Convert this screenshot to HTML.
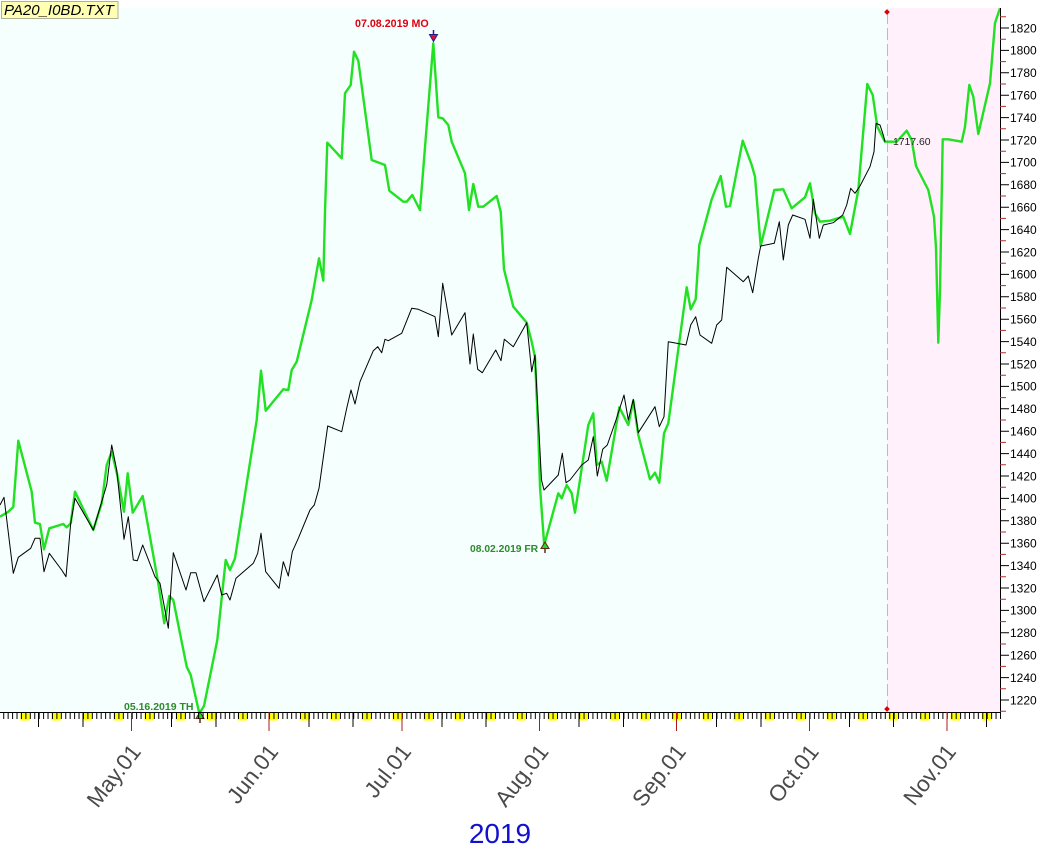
<!DOCTYPE html>
<html>
<head>
<meta charset="utf-8">
<style>
html,body{margin:0;padding:0;background:#fff;}
svg{display:block;}
text{font-family:"Liberation Sans",Arial,sans-serif;}
</style>
</head>
<body>
<svg width="1063" height="849" viewBox="0 0 1063 849" xmlns="http://www.w3.org/2000/svg">
<defs>
  <pattern id="dayticks" patternUnits="userSpaceOnUse" x="-1.2" y="712" width="4.43" height="8">
    <rect x="0" y="0" width="1" height="8" fill="#000"/>
  </pattern>
  <pattern id="weekend" patternUnits="userSpaceOnUse" x="-1.2" y="713" width="31.01" height="8">
    <rect x="21.6" y="0" width="9.4" height="7.5" fill="#ffff00"/>
  </pattern>
</defs>

<!-- plot backgrounds -->
<rect x="0" y="8" width="887" height="704" fill="#f5fffd"/>
<rect x="887" y="8" width="113" height="704" fill="#fff0fb"/>

<!-- dashed vertical line -->
<line x1="887.5" y1="12" x2="887.5" y2="709" stroke="#cbb3bd" stroke-width="1" stroke-dasharray="12 4"/>
<rect x="885" y="10" width="4" height="4" fill="#e00000" transform="rotate(45 887 12)"/>
<rect x="885" y="707" width="4" height="4" fill="#e00000" transform="rotate(45 887 709)"/>

<!-- green series -->
<polyline fill="none" stroke="#22e022" stroke-width="2.4" stroke-linejoin="round" points="0,516.7 8,512 13.3,507 18.3,440.7 31.7,491.7 35,522.7 40,524 44,549.3 49.3,528.3 63.3,524 66.7,527.3 70.7,523.3 75,491.7 93.3,530 101.7,503.3 106.7,465 111.7,451.7 117.3,475 124,511.7 127.7,473.3 132.7,512.7 142.7,496 158.3,583.3 164.3,623.3 169.3,596 173.3,600 186.7,666.7 190.7,675 199.3,713.3 204,706 217.3,640 225.7,560 230,570 235,558.3 248.3,473.3 256.7,420 261,370.7 265.7,410.7 283.3,389.3 288.3,390 291.7,370 296.7,361.7 311.7,300 314,286.7 319,258.3 323.3,280.7 325,211.7 327.3,142.7 341.7,158.3 345,93.3 350.7,85 354,51.7 358.3,60.7 371.7,160 385,165 389.3,190.7 403.3,201.7 406.7,201.7 412.3,195 420,210 433.3,43.3 438.3,117.3 442.7,118.3 448.3,125 451.7,141.7 465,173.3 469,210 473.3,184 478.3,206.7 483.3,206.7 496.7,196 500.7,211.7 504,269.3 513.3,306.7 526.7,322.7 531.7,341.7 535,357 538.3,433.3 540,486.7 544.2,545 558.3,493.3 561.7,498.3 566.7,485 571.7,493.3 575,512.7 588.3,425 593.3,413.3 596.7,465 601.7,461.7 606.7,480.7 619.3,407.3 628.3,425 633.3,400.7 638.3,435 650,479.3 655,472.7 659.3,482.7 664,433.3 668.3,423.3 686.7,287.3 690.7,309.3 695.7,299.3 699.3,245 711.7,199.3 720.7,176 726,206.7 730,206 742.7,140.7 751.7,165 755,176.7 760.7,246 774.3,190 783.3,189.3 791.7,208.3 805,197.3 810,183.3 815,213.3 820,221.7 830,220.7 843.3,216.7 850,234 858.3,190 867.3,84 872.7,95 877.3,126.7 885,141.7 896.7,141.7 906.7,130.7 911.7,140 916,166 928.3,190 934,216.7 936,248 938.3,342.7 940,290 942.7,139.3 948.3,139.3 961.7,141.7 965,126.7 969.3,85 973.3,96.7 978.3,134 990,83.3 995,23 1000,8.3"/>

<!-- black series -->
<polyline fill="none" stroke="#000" stroke-width="1" stroke-linejoin="round" points="0,505 4,497.3 13.3,573.3 18.3,557.3 30.7,548.3 35,538.3 40,538.3 44,571.7 49.3,553.3 61.7,570 66,576.7 70.7,523.3 75,498.3 93.3,530 106.7,485 111.7,445 116.7,470 124,539.3 128.3,516.7 133.3,560 137.3,560.7 142.7,545 155,576.7 160,583.3 168.3,628.3 173.3,552.7 186,590 190.7,572.7 196,572.7 204,601.7 217.3,575 221.7,595 226.7,593.3 230,600 236,578.3 253.3,563.3 257.7,553.3 261,533.3 265.7,571.7 279,588.3 283.3,561.7 288.3,576 292.3,551.7 298.3,538.3 310,510 314.3,505 319,488.3 327.7,426 341.7,431.7 346.7,408.3 351,390 355,404 360,381.7 373.3,350.7 377.7,346.7 381.7,352.7 385,339.3 388.3,340.7 401.7,333.3 411.7,308.3 418.3,309.3 435,316.7 438.3,336.7 442.7,283.3 451.7,335 465,312.7 470,364 473.3,334 477.7,369.3 482.3,372.7 495.7,350 501,360.7 504.3,339.3 513.3,346.7 526.7,322.7 531.7,371.7 535,355 541.5,480 544,490 558.3,475 562.3,453.3 566,482.7 570,480 581.7,465 588.3,460 593.3,436.7 597.3,476 602.7,449.3 607.3,445 616,420 624,395 628.3,420 633.3,399.3 638.3,432.7 655,406.7 659.3,426.7 664,416.7 668.3,341.7 676.7,343.3 686,345 690.7,325 695.7,316.7 700,335 711.7,343.3 716.7,325 721.7,320 726.7,267.3 743.3,281.7 748.3,276 752.7,292.7 758.3,258.3 760.7,246 774.3,243.3 779.3,221.7 783.3,260 788.3,225 792.7,215 805,219.3 810,238.3 813.3,199.3 819.3,238.3 823.3,225 833.3,222.7 842.7,215 846.7,205 850.7,188.3 855,193.3 860,186 870,166.7 874,151.7 876,123.3 880,125 883.3,135 885,141.7"/>

<!-- last value label -->
<text x="893" y="145" font-size="10.4" fill="#222">1717.60</text>

<!-- annotations -->
<text x="355" y="27" font-size="10.7" font-weight="bold" fill="#e00010">07.08.2019 MO</text>
<g>
  <line x1="433.5" y1="30" x2="433.5" y2="35" stroke="#2a1a8a" stroke-width="1.5"/>
  <polygon points="429.5,34.5 437.5,34.5 433.5,41.5" fill="#e0103a" stroke="#2a1a8a" stroke-width="1"/>
</g>

<text x="124" y="710" font-size="10.5" font-weight="bold" fill="#2e8a2e">05.16.2019 TH</text>
<g>
  <line x1="200" y1="718" x2="200" y2="723" stroke="#5a2a10" stroke-width="1.5"/>
  <polygon points="196,718.5 204,718.5 200,712" fill="#22dd22" stroke="#5a2a10" stroke-width="1"/>
</g>

<text x="470" y="552" font-size="10.3" font-weight="bold" fill="#2e8a2e">08.02.2019 FR</text>
<g>
  <line x1="545" y1="548" x2="545" y2="553" stroke="#5a2a10" stroke-width="1.5"/>
  <polygon points="541,548.5 549,548.5 545,542" fill="#22dd22" stroke="#5a2a10" stroke-width="1"/>
</g>

<!-- bottom axis -->
<rect x="0" y="713" width="1000" height="8" fill="url(#weekend)"/>
<rect x="0" y="712" width="1001" height="7" fill="url(#dayticks)" shape-rendering="crispEdges"/>
<line x1="0" y1="712.5" x2="1001" y2="712.5" stroke="#000" stroke-width="1" shape-rendering="crispEdges"/>
<path d="M38.67 712V727 M82.97 712V727 M171.57 712V727 M215.87 712V727 M308.9 712V727 M353.2 712V727 M441.8 712V727 M486.1 712V727 M579.13 712V727 M623.43 712V727 M716.46 712V727 M760.76 712V727 M849.36 712V727 M893.66 712V727 M986.69 712V727" stroke="#000" stroke-width="1" shape-rendering="crispEdges"/>
<path d="M131.7 712V731 M269.03 712V731 M401.93 712V731 M539.26 712V731 M676.59 712V731 M809.49 712V731 M946.82 712V731" stroke="#b01818" stroke-width="1" shape-rendering="crispEdges"/>

<!-- month labels -->
<g font-size="22.5" fill="#4a4a4a" text-anchor="end">
  <text transform="translate(142,752) rotate(-52)">May.01</text>
  <text transform="translate(279.3,752) rotate(-52)">Jun.01</text>
  <text transform="translate(412.2,752) rotate(-52)">Jul.01</text>
  <text transform="translate(549.6,752) rotate(-52)">Aug.01</text>
  <text transform="translate(686.9,752) rotate(-52)">Sep.01</text>
  <text transform="translate(819.8,752) rotate(-52)">Oct.01</text>
  <text transform="translate(957.1,752) rotate(-52)">Nov.01</text>
</g>
<text x="500" y="843" font-size="28" fill="#1010d0" text-anchor="middle">2019</text>

<!-- right axis -->
<line x1="1000.5" y1="8" x2="1000.5" y2="713" stroke="#000" stroke-width="1" shape-rendering="crispEdges"/>
<path d="M1000 28H1009 M1000 50.4H1009 M1000 72.8H1009 M1000 95.2H1009 M1000 117.6H1009 M1000 140H1009 M1000 162.4H1009 M1000 184.8H1009 M1000 207.2H1009 M1000 229.6H1009 M1000 252H1009 M1000 274.4H1009 M1000 296.8H1009 M1000 319.2H1009 M1000 341.6H1009 M1000 364H1009 M1000 386.4H1009 M1000 408.8H1009 M1000 431.2H1009 M1000 453.6H1009 M1000 476H1009 M1000 498.4H1009 M1000 520.8H1009 M1000 543.2H1009 M1000 565.6H1009 M1000 588H1009 M1000 610.4H1009 M1000 632.8H1009 M1000 655.2H1009 M1000 677.6H1009 M1000 700H1009" stroke="#000" stroke-width="1"/>
<path d="M1000 16.8H1006 M1000 39.2H1006 M1000 61.6H1006 M1000 84H1006 M1000 106.4H1006 M1000 128.8H1006 M1000 151.2H1006 M1000 173.6H1006 M1000 196H1006 M1000 218.4H1006 M1000 240.8H1006 M1000 263.2H1006 M1000 285.6H1006 M1000 308H1006 M1000 330.4H1006 M1000 352.8H1006 M1000 375.2H1006 M1000 397.6H1006 M1000 420H1006 M1000 442.4H1006 M1000 464.8H1006 M1000 487.2H1006 M1000 509.6H1006 M1000 532H1006 M1000 554.4H1006 M1000 576.8H1006 M1000 599.2H1006 M1000 621.6H1006 M1000 644H1006 M1000 666.4H1006 M1000 688.8H1006 M1000 711.2H1006" stroke="#b03030" stroke-width="1"/>
<g font-size="12" fill="#000">
  <text x="1010" y="32.3">1820</text>
  <text x="1010" y="54.7">1800</text>
  <text x="1010" y="77.1">1780</text>
  <text x="1010" y="99.5">1760</text>
  <text x="1010" y="121.9">1740</text>
  <text x="1010" y="144.3">1720</text>
  <text x="1010" y="166.7">1700</text>
  <text x="1010" y="189.1">1680</text>
  <text x="1010" y="211.5">1660</text>
  <text x="1010" y="233.9">1640</text>
  <text x="1010" y="256.3">1620</text>
  <text x="1010" y="278.7">1600</text>
  <text x="1010" y="301.1">1580</text>
  <text x="1010" y="323.5">1560</text>
  <text x="1010" y="345.9">1540</text>
  <text x="1010" y="368.3">1520</text>
  <text x="1010" y="390.7">1500</text>
  <text x="1010" y="413.1">1480</text>
  <text x="1010" y="435.5">1460</text>
  <text x="1010" y="457.9">1440</text>
  <text x="1010" y="480.3">1420</text>
  <text x="1010" y="502.7">1400</text>
  <text x="1010" y="525.1">1380</text>
  <text x="1010" y="547.5">1360</text>
  <text x="1010" y="569.9">1340</text>
  <text x="1010" y="592.3">1320</text>
  <text x="1010" y="614.7">1300</text>
  <text x="1010" y="637.1">1280</text>
  <text x="1010" y="659.5">1260</text>
  <text x="1010" y="681.9">1240</text>
  <text x="1010" y="704.3">1220</text>
</g>

<!-- title box -->
<rect x="1.5" y="1.5" width="116.5" height="17" fill="#ffffb4" stroke="#b0b098" stroke-width="1"/>
<text x="4" y="15" font-size="15" font-style="italic" fill="#000">PA20_I0BD.TXT</text>
</svg>
</body>
</html>
